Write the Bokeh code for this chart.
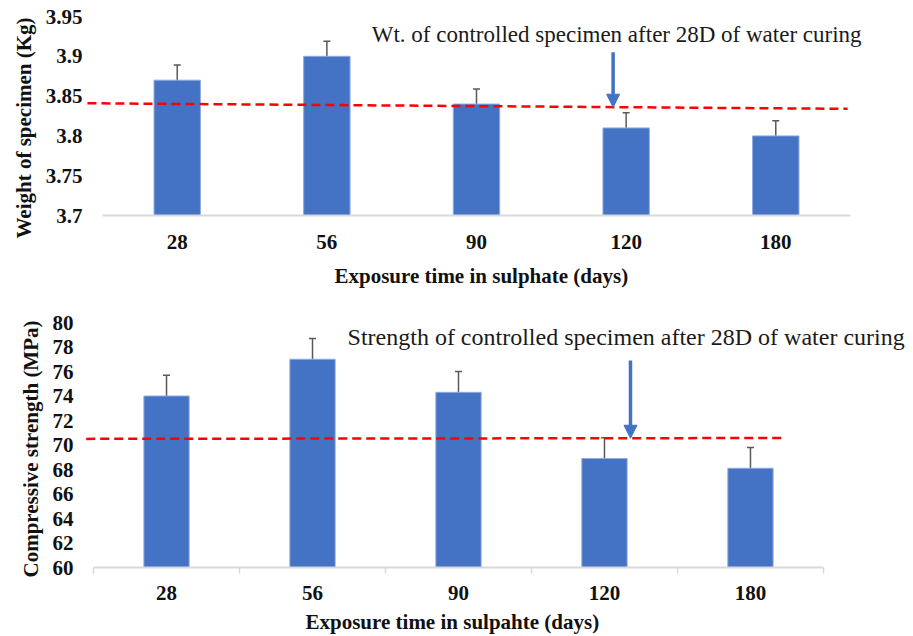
from bokeh.plotting import figure
from bokeh.layouts import column
from bokeh.models import (ColumnDataSource, Whisker, TeeHead, Arrow, NormalHead,
                          Label, FixedTicker, Range1d, Title, LinearAxis)
from bokeh.embed import file_html
from bokeh.resources import INLINE

# ---------------- data ----------------
days = ["28", "56", "90", "120", "180"]
weight = [3.87, 3.90, 3.84, 3.81, 3.80]
weight_err = [0.019, 0.019, 0.019, 0.019, 0.019]
weight_control = [3.841, 3.834]          # dashed control line (left end, right end)
weight_yticks = [3.7, 3.75, 3.8, 3.85, 3.9, 3.95]
weight_ytick_labels = ["3.7", "3.75", "3.8", "3.85", "3.9", "3.95"]

strength = [74.0, 77.0, 74.3, 68.9, 68.1]
strength_err = [1.7, 1.7, 1.7, 1.7, 1.7]
strength_control = [70.5, 70.57]
strength_yticks = [60, 62, 64, 66, 68, 70, 72, 74, 76, 78, 80]
strength_ytick_labels = ["60", "62", "64", "66", "68", "70", "72", "74", "76", "78", "80"]

weight_note = "Wt. of controlled specimen after 28D of water curing"
strength_note = "Strength of controlled specimen after 28D of water curing"

# ---------------- styles ----------------
BAR = "#4472C4"
SERIF = "Liberation Serif"
GREY_AXIS = "#D9D9D9"
ERR = "#595959"
TXT = "#111111"


def make_chart(values, errs, control, yticks, ylabels, ylabel, xlabel, note,
               height, xr, yr, borders, ctrl_x, arrow, note_pos, note_size, tick_marks,
               y_standoff, x_standoff, gap, xtitle_offset, ytitle_offset):
    xs = list(range(len(days)))
    src = ColumnDataSource(dict(x=xs, top=values,
                                upper=[v + e for v, e in zip(values, errs)],
                                lower=[v - e for v, e in zip(values, errs)]))
    p = figure(width=913, height=height, x_range=Range1d(*xr), y_range=Range1d(*yr),
               output_backend="svg", toolbar_location=None,
               min_border_left=borders[0], min_border_right=borders[1],
               min_border_top=borders[2], min_border_bottom=borders[3])
    p.outline_line_color = None
    p.xgrid.visible = False
    p.ygrid.visible = False

    p.vbar(x="x", top="top", bottom=yr[0], width=0.31, source=src,
           fill_color=BAR, line_color="#8FAADC", line_width=1)
    p.add_layout(Whisker(source=src, base="x", upper="upper", lower="lower",
                         line_color=ERR, line_width=1.5,
                         upper_head=TeeHead(size=7, line_color=ERR, line_width=1.5),
                         lower_head=TeeHead(size=7, line_color=ERR, line_width=1.5)))
    # control line
    p.line(x=ctrl_x, y=control, line_color="#FF0000", line_width=2.5, line_dash="9 5")
    # arrow + note
    p.add_layout(Arrow(end=NormalHead(size=13, fill_color=BAR, line_color=BAR),
                       x_start=arrow[0], y_start=arrow[1], x_end=arrow[0], y_end=arrow[2],
                       line_color=BAR, line_width=3.5))
    p.add_layout(Label(x=note_pos[0], y=note_pos[1], text=note, text_font=SERIF,
                       text_font_size=note_size, text_color="#1a1a1a",
                       text_baseline="middle", text_align="left"))

    # x axis: category baseline limited to the categories
    xa = p.xaxis[0]
    xa.bounds = (-0.5, len(days) - 0.5)
    xa.ticker = FixedTicker(ticks=xs, minor_ticks=tick_marks)
    xa.major_label_overrides = {i: d for i, d in enumerate(days)}
    xa.axis_line_color = GREY_AXIS
    xa.axis_line_width = 2
    xa.major_tick_line_color = None
    xa.major_tick_out = 0
    xa.major_tick_in = 0
    xa.minor_tick_line_color = GREY_AXIS if tick_marks else None
    xa.minor_tick_line_width = 1.5
    xa.minor_tick_out = 6 if tick_marks else 0
    xa.minor_tick_in = 0
    xa.major_label_text_font = SERIF
    xa.major_label_text_font_style = "bold"
    xa.major_label_text_font_size = "21px"
    xa.major_label_text_color = TXT
    xa.major_label_standoff = x_standoff

    # invisible spacer between the tick labels and the x title
    spacer = LinearAxis(ticker=FixedTicker(ticks=[xs[0]]), axis_line_color=None,
                        major_tick_out=gap, major_tick_in=0, major_tick_line_color=None,
                        minor_tick_out=0, minor_tick_in=0, minor_tick_line_color=None,
                        major_label_standoff=0, major_label_overrides={xs[0]: ""},
                        major_label_text_font_size="1px")
    p.add_layout(spacer, "below")
    p.add_layout(Title(text=xlabel, align="left", offset=xtitle_offset, text_font=SERIF,
                       text_font_style="bold", text_font_size="21px", text_color=TXT,
                       standoff=0), "below")

    ya = p.yaxis[0]
    ya.ticker = FixedTicker(ticks=yticks)
    ya.major_label_overrides = {t: l for t, l in zip(yticks, ylabels)}
    ya.axis_line_color = None
    ya.major_tick_line_color = None
    ya.minor_tick_line_color = None
    ya.major_tick_out = 0
    ya.major_tick_in = 0
    ya.major_label_text_font = SERIF
    ya.major_label_text_font_style = "bold"
    ya.major_label_text_font_size = "21px"
    ya.major_label_text_color = TXT
    ya.major_label_standoff = y_standoff

    p.add_layout(Title(text=ylabel, align="left", offset=ytitle_offset, text_font=SERIF,
                       text_font_style="bold", text_font_size="21px", text_color=TXT,
                       standoff=14), "left")
    return p


p1 = make_chart(weight, weight_err, weight_control, weight_yticks, weight_ytick_labels,
                "Weight of specimen (Kg)", "Exposure time in sulphate (days)", weight_note,
                height=290, xr=(-0.613, 4.907), yr=(3.7, 3.95), borders=(83, 2, 16, 75),
                ctrl_x=[-0.6, 4.48], arrow=(2.913, 3.905, 3.836), note_pos=(1.3, 3.928),
                note_size="23px", tick_marks=[], y_standoff=3, x_standoff=19, gap=10,
                xtitle_offset=249, ytitle_offset=-23)

p2 = make_chart(strength, strength_err, strength_control, strength_yticks, strength_ytick_labels,
                "Compressive strength (MPa)", "Exposure time in sulpahte (days)", strength_note,
                height=346, xr=(-0.555, 5.103), yr=(60, 80), borders=(85, 2, 32, 69),
                ctrl_x=[-0.55, 4.22], arrow=(3.178, 76.9, 70.55), note_pos=(1.24, 78.8),
                note_size="24px", tick_marks=[-0.5, 0.5, 1.5, 2.5, 3.5, 4.5], y_standoff=12,
                x_standoff=12, gap=5, xtitle_offset=220, ytitle_offset=-10)

layout = column(p1, p2, spacing=0)
open("out.html", "w").write(file_html(layout, INLINE))
